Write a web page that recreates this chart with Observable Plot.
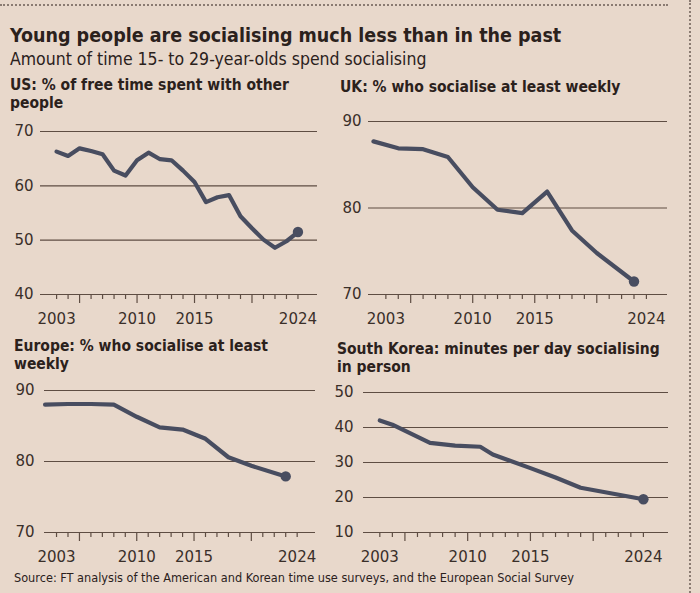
<!DOCTYPE html>
<html>
<head>
<meta charset="utf-8">
<script src="https://cdn.jsdelivr.net/npm/d3@7"></script>
<script src="https://cdn.jsdelivr.net/npm/@observablehq/plot@0.6"></script>
<style>
  html, body { margin: 0; padding: 0; }
  body { width: 700px; height: 593px; background: #e8d8cb; position: relative; overflow: hidden; color: #2b211c; }
  .abs { position: absolute; }
  .title { font-family: "DejaVu Sans Condensed", sans-serif; font-weight: bold; font-size: 19.5px; left: 10px; top: 24px; white-space: nowrap; }
  .subtitle { font-family: "DejaVu Sans Condensed", sans-serif; font-size: 17.5px; left: 10px; top: 49px; white-space: nowrap; }
  .ptitle { font-family: "DejaVu Sans Condensed", sans-serif; font-weight: bold; font-size: 15.5px; line-height: 18px; }
  .source { font-family: "DejaVu Sans Condensed", sans-serif; font-size: 12.6px; left: 14px; top: 570px; white-space: nowrap; }
  .dotH { left: 0; top: 4px; width: 668px; height: 0; border-top: 2px dotted #8a7b72; }
  .dotV { left: 689px; top: 0; width: 0; height: 593px; border-left: 2px dotted #8a7b72; }
  svg { overflow: visible; }
</style>
</head>
<body>
<div class="abs dotH"></div>
<div class="abs dotV"></div>
<div class="abs title">Young people are socialising much less than in the past</div>
<div class="abs subtitle">Amount of time 15- to 29-year-olds spend socialising</div>

<div class="abs ptitle" style="left:10px;top:76px;width:300px">US: % of free time spent with other people</div>
<div class="abs ptitle" style="left:340px;top:78px;width:330px">UK: % who socialise at least weekly</div>
<div class="abs ptitle" style="left:14px;top:337px;width:270px">Europe: % who socialise at least weekly</div>
<div class="abs ptitle" style="left:337px;top:340px;width:335px">South Korea: minutes per day socialising in person</div>

<div id="us" class="abs" style="left:0px;top:121px"></div>
<div id="uk" class="abs" style="left:330px;top:111px"></div>
<div id="eu" class="abs" style="left:0px;top:380px"></div>
<div id="kr" class="abs" style="left:330px;top:382px"></div>

<div class="abs source">Source: FT analysis of the American and Korean time use surveys, and the European Social Survey</div>

<script>
// ---- Data ----
const usYears  = [2003,2004,2005,2006,2007,2008,2009,2010,2011,2012,2013,2014,2015,2016,2017,2018,2019,2020,2021,2022,2023,2024];
const usValues = [66.3,65.5,66.9,66.4,65.8,62.8,61.9,64.7,66.1,64.9,64.7,62.8,60.7,57.0,57.9,58.3,54.4,52.2,50.1,48.6,49.8,51.5];

const ukYears  = [2002,2004,2006,2008,2010,2012,2014,2016,2018,2020,2023];
const ukValues = [87.7,86.9,86.8,85.9,82.4,79.8,79.4,81.9,77.4,74.8,71.5];

const euYears  = [2002,2004,2006,2008,2010,2012,2014,2016,2018,2020,2023];
const euValues = [88.0,88.1,88.1,88.0,86.3,84.8,84.5,83.2,80.6,79.4,77.9];

const krYears  = [2003,2004,2007,2009,2011,2012,2015,2017,2019,2024];
const krValues = [42.0,40.8,35.6,34.8,34.5,32.3,28.4,25.7,22.8,19.5];

const usTicks = [40,50,60,70];
const ukTicks = [70,80,90];
const euTicks = [70,80,90];
const krTicks = [10,20,30,40,50];

const xLabels = [2003,2010,2015,2024];
const xMajor  = [2005,2010,2015,2020];
const xMinor  = d3.range(2003, 2025).filter(y => !xMajor.includes(y));

const LINE = "#484d60";
const GRID = "#5e4d43";
const TEXT = "#3a2f29";

function panel(el, years, values, yTicks, opts) {
  const data = years.map((y, i) => ({year: y, value: values[i]}));
  const last = data[data.length - 1];
  const mTop = 10, mBottom = 35;
  const plotH = opts.height - mTop - mBottom;
  const yMin = yTicks[0], yMax = yTicks[yTicks.length - 1];
  const perPx = (yMax - yMin) / plotH;   // data units per pixel, for tick lengths
  const chart = Plot.plot({
    width: opts.width,
    height: opts.height,
    marginLeft: opts.marginLeft,
    marginRight: opts.marginRight,
    marginTop: mTop,
    marginBottom: mBottom,
    style: {background: "transparent", fontFamily: "DejaVu Sans, sans-serif", fontSize: "15px", color: TEXT, overflow: "visible"},
    x: {domain: opts.xDomain},
    y: {domain: [yMin, yMax]},
    marks: [
      Plot.ruleY(yTicks, {stroke: GRID, strokeWidth: 1.1}),
      Plot.link(xMinor, {x1: d => d, x2: d => d, y1: () => yMin, y2: () => yMin - 4.5 * perPx, stroke: GRID, strokeWidth: 1.2}),
      Plot.link(xMajor, {x1: d => d, x2: d => d, y1: () => yMin, y2: () => yMin - 8.5 * perPx, stroke: GRID, strokeWidth: 1.2}),
      Plot.axisY({ticks: yTicks, tickSize: 0, tickPadding: opts.yPad, tickFormat: d3.format("d"), fontSize: 15, fill: TEXT, label: null}),
      Plot.axisX({ticks: xLabels, tickSize: 0, tickPadding: 19, tickFormat: d3.format("d"), fontSize: 15, fill: TEXT, label: null}),
      Plot.line(data, {x: "year", y: "value", stroke: LINE, strokeWidth: 4.2, strokeLinejoin: "round", strokeLinecap: "round"}),
      Plot.dot([last], {x: "year", y: "value", r: 5.2, fill: LINE, stroke: null})
    ]
  });
  document.getElementById(el).appendChild(chart);
}

panel("us", usYears, usValues, usTicks, {width: 320, height: 208, marginLeft: 40, marginRight: 3, yPad: 7, xDomain: [2001.6, 2025.7]});
panel("uk", ukYears, ukValues, ukTicks, {width: 340, height: 218, marginLeft: 38, marginRight: 3, yPad: 7, xDomain: [2001.6, 2025.7]});
panel("eu", euYears, euValues, euTicks, {width: 320, height: 187, marginLeft: 44, marginRight: 5, yPad: 10, xDomain: [2001.95, 2025.6]});
panel("kr", krYears, krValues, krTicks, {width: 340, height: 185, marginLeft: 33, marginRight: 2, yPad: 10, xDomain: [2001.7, 2026]});
</script>
</body>
</html>
